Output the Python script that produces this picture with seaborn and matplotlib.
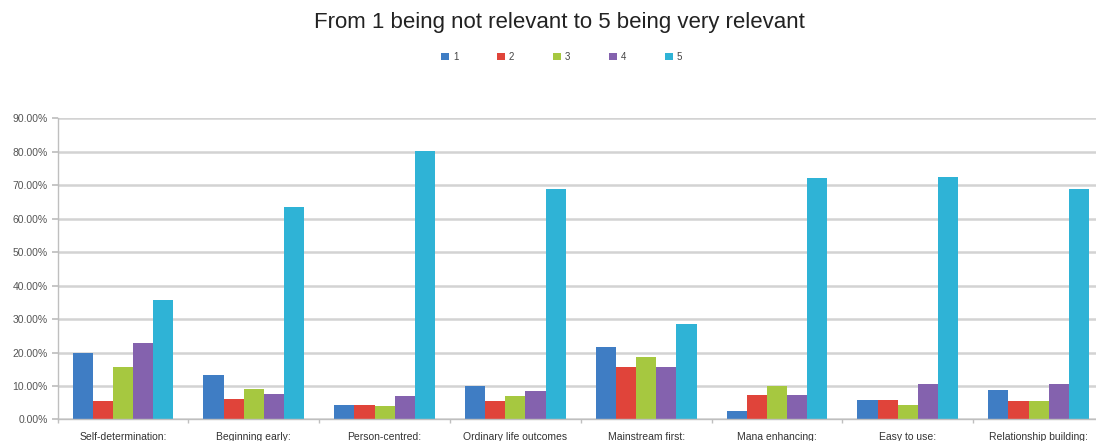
import matplotlib
matplotlib.use("Agg")
import matplotlib.pyplot as plt
import seaborn as sns
import pandas as pd
from matplotlib.ticker import FuncFormatter, MultipleLocator, FixedLocator
from matplotlib.patches import Patch

categories = ["Self-determination:", "Beginning early:", "Person-centred:",
              "Ordinary life outcomes", "Mainstream first:", "Mana enhancing:",
              "Easy to use:", "Relationship building:"]
ratings = ["1", "2", "3", "4", "5"]
r1 = [19.8, 13.3, 4.3, 10.0, 21.6, 2.6, 5.8, 8.8]
r2 = [5.6, 6.0, 4.3, 5.6, 15.8, 7.3, 5.8, 5.6]
r3 = [15.8, 9.1, 4.0, 7.1, 18.6, 10.1, 4.3, 5.6]
r4 = [22.8, 7.5, 7.1, 8.6, 15.8, 7.3, 10.6, 10.6]
r5 = [35.6, 63.6, 80.1, 69.0, 28.5, 72.1, 72.6, 69.0]
title = "From 1 being not relevant to 5 being very relevant"
colors = ["#3F7DC4", "#E0443A", "#A6C840", "#8462AE", "#2FB3D6"]

series = [r1, r2, r3, r4, r5]
rows = []
for rating, vals in zip(ratings, series):
    for cat, v in zip(categories, vals):
        rows.append({"category": cat, "rating": rating, "value": v / 100.0})
df = pd.DataFrame(rows)

sns.set_theme(style="white")
plt.rcParams["font.family"] = ["Liberation Sans", "DejaVu Sans"]

fig = plt.figure(figsize=(10.96, 4.41), dpi=100)
ax = fig.add_axes([0.0526, 0.0488, 0.9547, 0.6829])

sns.barplot(data=df, x="category", y="value", hue="rating", order=categories,
            hue_order=ratings, palette=colors, width=0.77, gap=0,
            saturation=1, ax=ax, legend=False, edgecolor="none", linewidth=0)

ax.set_ylim(0, 0.9)
ax.set_xlim(-0.5, len(categories) - 0.5)
ax.yaxis.set_major_locator(MultipleLocator(0.1))
ax.yaxis.set_major_formatter(FuncFormatter(lambda v, p: f"{v*100:.2f}%"))
ax.grid(axis="y", color="#D3D3D3", linewidth=1.8)
ax.set_axisbelow(True)
for s in ["top", "right"]:
    ax.spines[s].set_visible(False)
ax.spines["left"].set_color("#BFBFBF")
ax.spines["left"].set_linewidth(1.0)
ax.spines["bottom"].set_color("#BFBFBF")
ax.spines["bottom"].set_linewidth(1.0)
ax.set_xlabel("")
ax.set_ylabel("")
ax.tick_params(axis="y", labelsize=7.5, labelcolor="#555555", length=4,
               color="#BFBFBF", pad=3, left=True)
ax.tick_params(axis="x", labelsize=7.5, labelcolor="#333333", length=0, pad=9)
ax.xaxis.set_minor_locator(FixedLocator([i + 0.5 for i in range(-1, len(categories))]))
ax.tick_params(axis="x", which="minor", length=3, color="#BFBFBF", bottom=True)
for lbl in ax.get_xticklabels():
    lbl.set_family(["Liberation Sans Narrow", "Liberation Sans", "DejaVu Sans"])

fig.text(559 / 1096, 1 - 28 / 441, title, ha="center", va="baseline",
         fontsize=16, color="#222222")

handles = [Patch(facecolor=c, edgecolor="none") for c in colors]
fig.legend(handles, ratings, loc="center", bbox_to_anchor=(0.5125, 1 - 57 / 441),
           ncol=5, frameon=False, fontsize=7, handlelength=0.8, handleheight=0.7,
           handletextpad=0.4, columnspacing=4.0, labelcolor="#444444")

fig.savefig("out.png", dpi=100)
